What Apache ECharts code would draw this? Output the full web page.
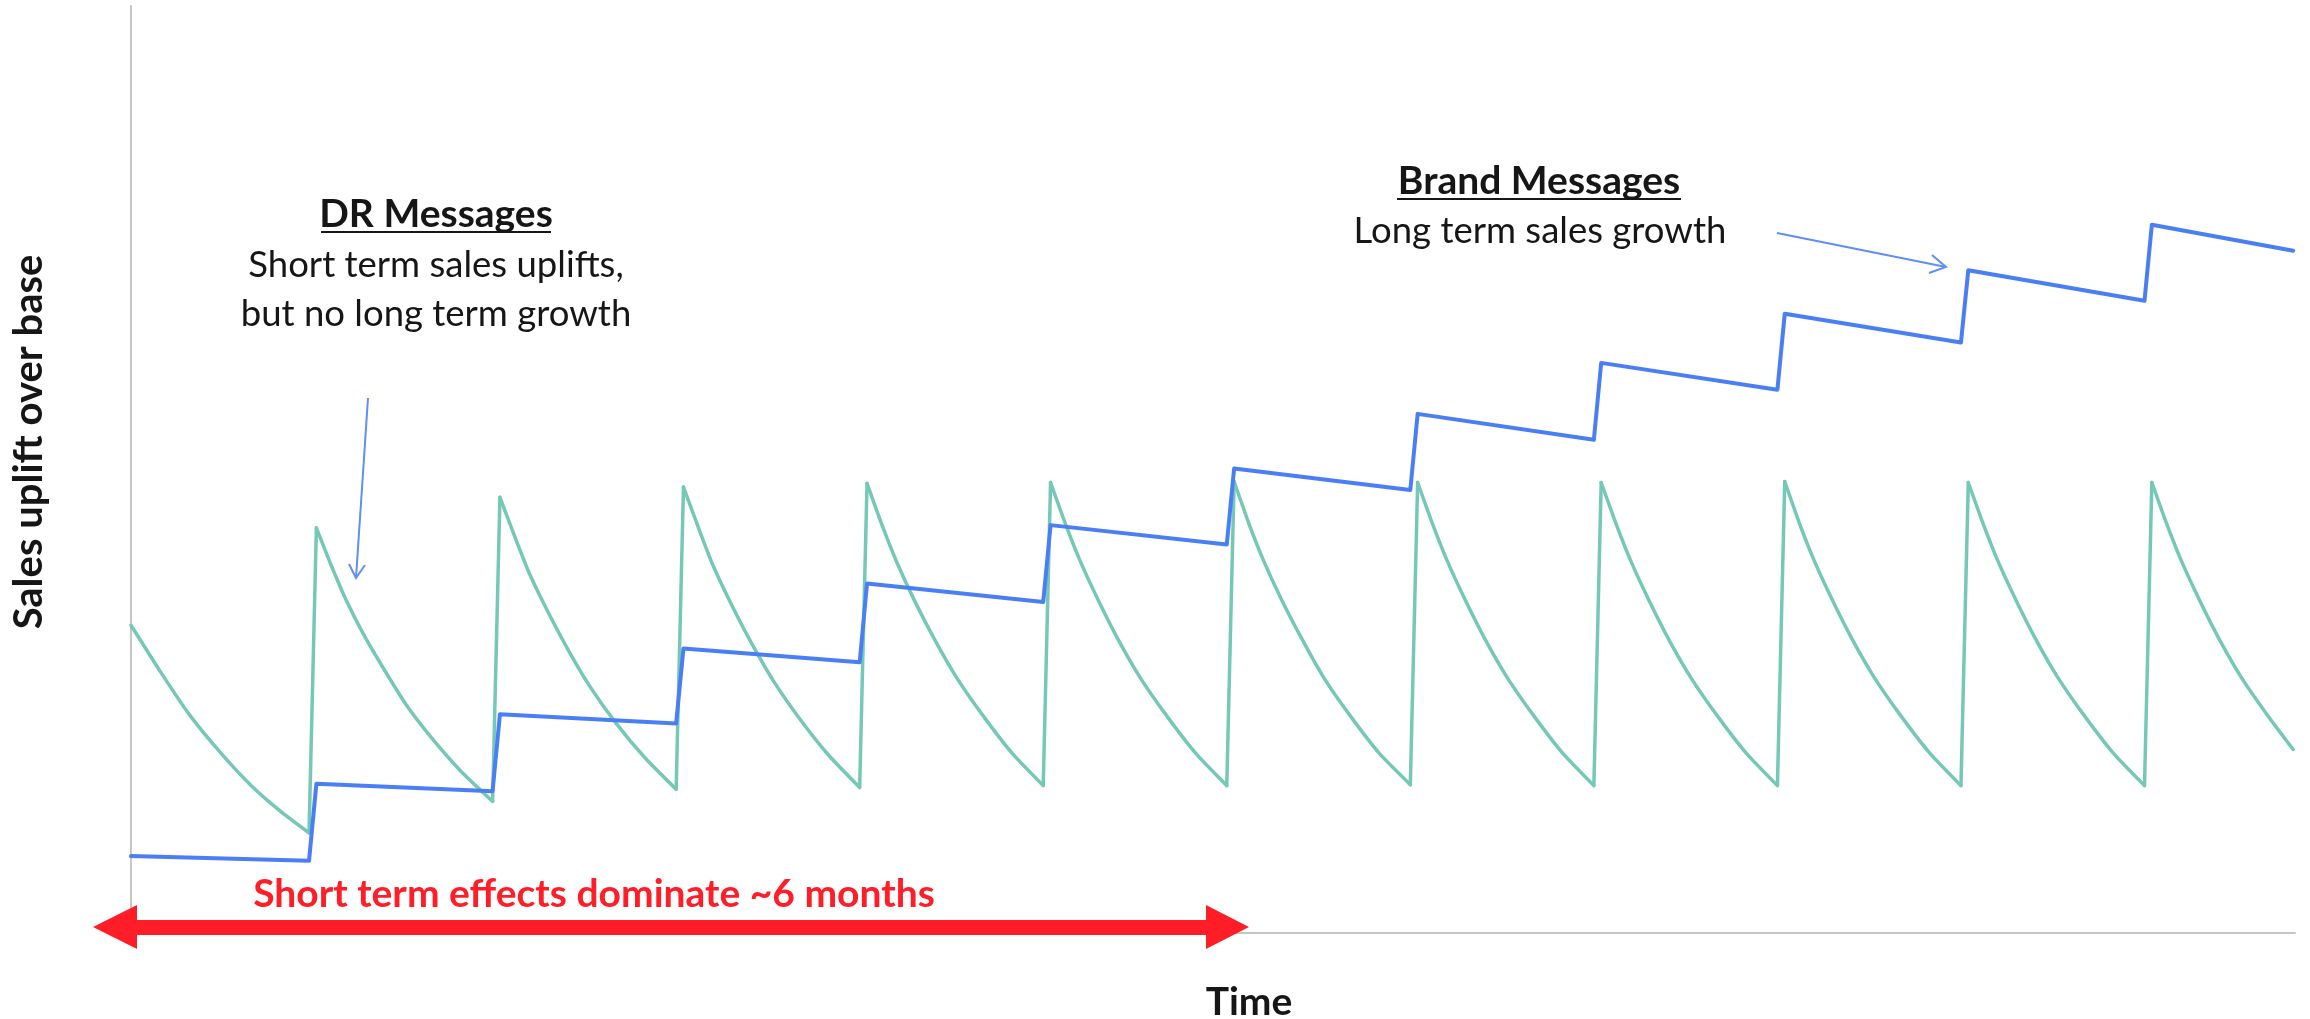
<!DOCTYPE html>
<html>
<head>
<meta charset="utf-8">
<script src="https://cdn.jsdelivr.net/npm/echarts@6/dist/echarts.min.js"></script>
<style>
  html, body { margin: 0; padding: 0; background: #ffffff; }
  #chart { width: 2310px; height: 1019px; }
</style>
</head>
<body>
<div id="chart"></div>
<script>
// Time axis in months; uplift on a 0-100 index.

// DR messages: a spike at every burst that decays back within the month
const drTime = [
  0.00, 0.16, 0.32, 0.49, 0.65, 0.81, 0.97,
  1.01, 1.09, 1.17, 1.27, 1.38, 1.50, 1.64, 1.80, 1.97,
  2.01, 2.09, 2.17, 2.27, 2.38, 2.50, 2.64, 2.80, 2.97,
  3.01, 3.09, 3.17, 3.27, 3.38, 3.50, 3.64, 3.80, 3.97,
  4.01, 4.09, 4.17, 4.27, 4.38, 4.50, 4.64, 4.80, 4.97,
  5.01, 5.09, 5.17, 5.27, 5.38, 5.50, 5.64, 5.80, 5.97,
  6.01, 6.09, 6.17, 6.27, 6.38, 6.50, 6.64, 6.80, 6.97,
  7.01, 7.09, 7.17, 7.27, 7.38, 7.50, 7.64, 7.80, 7.97,
  8.01, 8.09, 8.17, 8.27, 8.38, 8.50, 8.64, 8.80, 8.97,
  9.01, 9.09, 9.17, 9.27, 9.38, 9.50, 9.64, 9.80, 9.97,
  10.01, 10.09, 10.17, 10.27, 10.38, 10.50, 10.64, 10.80, 10.97,
  11.01, 11.09, 11.17, 11.27, 11.38, 11.50, 11.64, 11.78
];
const drUplift = [
  33.2, 28.2, 23.5, 19.4, 16.0, 13.2, 10.8,
  43.7, 39.7, 36.0, 32.1, 28.4, 24.6, 21.0, 17.4, 14.2,
  47.0, 42.8, 38.8, 34.7, 30.6, 26.6, 22.7, 18.9, 15.5,
  48.1, 43.8, 39.7, 35.5, 31.3, 27.2, 23.2, 19.2, 15.7,
  48.5, 44.1, 40.1, 35.8, 31.6, 27.5, 23.5, 19.4, 15.9,
  48.6, 44.2, 40.2, 35.9, 31.6, 27.5, 23.5, 19.4, 15.9,
  48.7, 44.2, 40.2, 35.9, 31.7, 27.5, 23.5, 19.4, 16.0,
  48.6, 44.2, 40.2, 35.9, 31.6, 27.5, 23.5, 19.4, 15.9,
  48.6, 44.2, 40.2, 35.9, 31.6, 27.5, 23.5, 19.4, 15.9,
  48.7, 44.2, 40.2, 35.9, 31.6, 27.5, 23.5, 19.4, 15.9,
  48.6, 44.2, 40.2, 35.9, 31.6, 27.5, 23.5, 19.4, 15.9,
  48.6, 44.2, 40.2, 35.9, 31.6, 27.5, 23.5, 19.8
];

// Brand messages: each burst lifts the base, which erodes only slowly
const brandTime = [
  0.00, 0.97, 1.01, 1.97, 2.01, 2.97, 3.01, 3.97, 4.01, 4.97, 5.01, 5.97,
  6.01, 6.97, 7.01, 7.97, 8.01, 8.97, 9.01, 9.97, 10.01, 10.97, 11.01, 11.78
];
const brandUplift = [
  8.3, 7.8, 16.1, 15.3, 23.6, 22.6, 30.7, 29.2, 37.7, 35.7, 44.0, 41.9,
  50.1, 47.8, 56.0, 53.2, 61.5, 58.6, 66.8, 63.7, 71.5, 68.2, 76.4, 73.6
];

const axisTitleX = 'Time';
const axisTitleY = 'Sales uplift over base';
const drHeading = 'DR Messages';
const drNotes = ['Short term sales uplifts,', 'but no long term growth'];
const brandHeading = 'Brand Messages';
const brandNotes = ['Long term sales growth'];
const spanNote = 'Short term effects dominate ~6 months';

const FONT = 'Lato, "Open Sans", sans-serif';
const TEAL = '#76c8b6';
const BLUE = '#4a7ef5';
const ARROW_BLUE = '#5f8ef8';
const RED = '#ff1e27';
const INK = '#161616';
const GAP = '-';

// Split the DR curve: smooth decays between bursts, straight risers at each burst
const drDecay = [];
const drRise = [];
drTime.forEach((t, i) => {
  drDecay.push([t, drUplift[i]]);
  const n = i + 1;
  if (n < drTime.length && drUplift[n] > drUplift[i]) {
    drDecay.push([t, GAP]);
    drRise.push([t, drUplift[i]], [drTime[n], drUplift[n]], [drTime[n], GAP]);
  }
});
const brandLine = brandTime.map((t, i) => [t, brandUplift[i]]);

function label(text, x, y, size, weight, color, extra) {
  return Object.assign({
    type: 'text', x: x, y: y, z: 100, silent: true,
    style: {
      text: text, fill: color || INK, align: 'center', verticalAlign: 'middle',
      font: (weight || 'normal') + ' ' + size + 'px ' + FONT
    }
  }, extra || {});
}

function rule(x1, x2, y, color, w) {
  return { type: 'line', z: 100, silent: true,
    shape: { x1: x1, y1: y, x2: x2, y2: y },
    style: { stroke: color, lineWidth: w } };
}

function thinArrow(x1, y1, x2, y2, wingA, wingB) {
  return [
    { type: 'line', z: 100, silent: true, shape: { x1: x1, y1: y1, x2: x2, y2: y2 },
      style: { stroke: ARROW_BLUE, lineWidth: 2 } },
    { type: 'polyline', z: 100, silent: true, shape: { points: [wingA, [x2, y2], wingB] },
      style: { stroke: ARROW_BLUE, lineWidth: 2, fill: null } }
  ];
}

const chart = echarts.init(document.getElementById('chart'), null, { renderer: 'canvas' });

const graphics = [
  label(axisTitleY, 29, 442, 40, 'bold', INK, { rotation: Math.PI / 2 }),
  label(axisTitleX, 1249, 1002, 39, 'bold', INK),
  label(drHeading, 436, 214, 39, 'bold', INK),
  rule(321, 551, 232, INK, 2),
  label(drNotes[0], 436, 265, 36.5, 'normal', INK),
  label(drNotes[1], 436, 314, 36.5, 'normal', INK),
  label(brandHeading, 1539, 181, 39, 'bold', INK),
  rule(1397, 1681, 199, INK, 2),
  label(brandNotes[0], 1540, 231, 36.5, 'normal', INK),
  label(spanNote, 594, 894, 39, 'bold', RED),
  { type: 'polygon', z: 100, silent: true,
    shape: { points: [[93, 927], [137, 905], [137, 920], [1206, 920], [1206, 905],
                      [1249, 927], [1206, 949], [1206, 935], [137, 935], [137, 949]] },
    style: { fill: RED } }
].concat(
  thinArrow(368, 398, 356, 578, [349, 564], [365, 565]),
  thinArrow(1777, 233, 1946, 267, [1932, 255], [1929, 273])
);

chart.setOption({
  backgroundColor: '#ffffff',
  animation: false,
  grid: { left: 131, right: 15, top: 6, bottom: 86, containLabel: false },
  xAxis: {
    type: 'value', min: 0, max: 11.79,
    axisLine: { show: true, lineStyle: { color: '#c6c6c6', width: 2 } },
    axisTick: { show: false }, axisLabel: { show: false }, splitLine: { show: false }
  },
  yAxis: {
    type: 'value', min: 0, max: 100,
    axisLine: { show: true, lineStyle: { color: '#c6c6c6', width: 2 } },
    axisTick: { show: false }, axisLabel: { show: false }, splitLine: { show: false }
  },
  series: [
    { name: 'DR', type: 'line', data: drDecay, showSymbol: false, smooth: 0.2,
      connectNulls: false,
      lineStyle: { color: TEAL, width: 3.5, join: 'round', cap: 'round' }, z: 2 },
    { name: 'DR burst', type: 'line', data: drRise, showSymbol: false,
      connectNulls: false,
      lineStyle: { color: TEAL, width: 3.5, join: 'round', cap: 'round' }, z: 2 },
    { name: 'Brand', type: 'line', data: brandLine, showSymbol: false,
      lineStyle: { color: BLUE, width: 4, join: 'round', cap: 'round' }, z: 3 }
  ],
  graphic: graphics
});
</script>
</body>
</html>
